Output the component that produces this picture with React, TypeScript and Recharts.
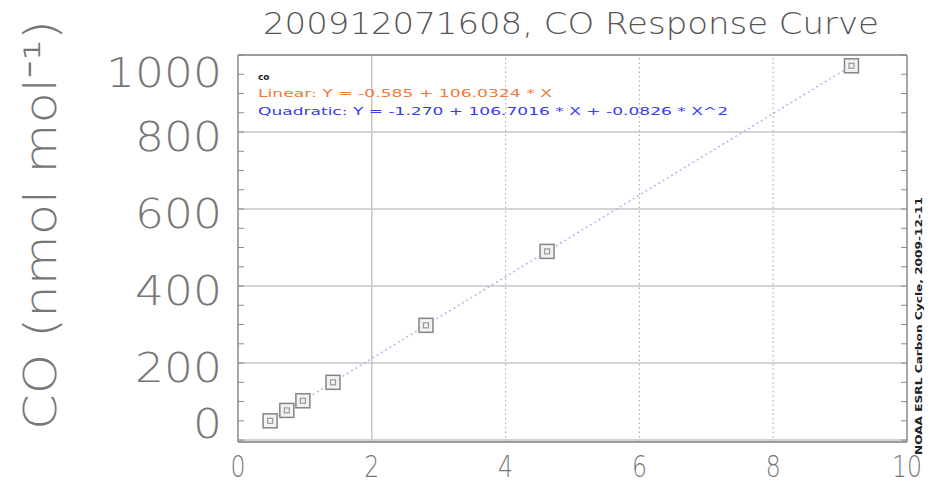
import React from 'react';
import {
  ScatterChart,
  Scatter,
  XAxis,
  YAxis,
  CartesianGrid,
  ReferenceLine,
} from 'recharts';

// instrument response (x) vs. assigned CO value (y) for each standard
const responses = [0.48, 0.73, 0.97, 1.42, 2.81, 4.62, 9.17];
const coValues = [50, 77, 102, 150, 298, 490, 972];

const xMajorTicks = [0, 2, 4, 6, 8, 10];
const xMinorTicks = [0, 0.5, 1, 1.5, 2, 2.5, 3, 3.5, 4, 4.5, 5, 5.5, 6, 6.5, 7, 7.5, 8, 8.5, 9, 9.5, 10];
const yMajorTicks = [0, 200, 400, 600, 800, 1000];
const yMinorTicks = [0, 50, 100, 150, 200, 250, 300, 350, 400, 450, 500, 550, 600, 650, 700, 750, 800, 850, 900, 950, 1000];
const solidGridX = [2];
const dottedGridX = [4, 6, 8];

const title = '200912071608, CO Response Curve';
const yTitle = 'CO (nmol mol\u207B\u00B9)';
const fitLabel = 'co';
const linearFit = 'Linear:  Y =  -0.585  +  106.0324 * X';
const quadraticFit = 'Quadratic:  Y =  -1.270  +  106.7016 * X   +  -0.0826 * X^2';
const footer = 'NOAA ESRL Carbon Cycle, 2009-12-11';

const data = responses.map((x, i) => ({ x, y: coValues[i] }));

const W = 930;
const H = 484;
const FRAME = '#8a8a8a';
const TEXT = '#777';
const FONT = '"DejaVu Sans", sans-serif';

const Blank = () => <g />;

const YTick = (props: any) => {
  const { y, payload } = props;
  const v = payload.value;
  const shift = v === 1000 ? 17 : v === 0 ? -17 : 4;
  const s = String(v);
  return (
    <text
      x={222}
      y={y + shift}
      dy="0.36em"
      textAnchor="end"
      fontFamily={FONT}
      fontWeight={200}
      fontSize={41}
      fill={TEXT}
      textLength={s.length * 29}
      lengthAdjust="spacingAndGlyphs"
    >
      {s}
    </text>
  );
};

const XTick = (props: any) => {
  const { x, payload } = props;
  const s = String(payload.value);
  return (
    <text
      x={x}
      y={466}
      dy="0.36em"
      textAnchor="middle"
      fontFamily={FONT}
      fontWeight={200}
      fontSize={30}
      fill={TEXT}
      textLength={s.length * 15}
      lengthAdjust="spacingAndGlyphs"
    >
      {s}
    </text>
  );
};

const BoxMarker = (props: any) => {
  const { cx, cy } = props;
  return (
    <g>
      <rect x={cx - 7} y={cy - 7} width={14} height={14} fill="#f2f2f2" stroke="#858585" strokeWidth={1.5} />
      <rect x={cx - 2.5} y={cy - 2.5} width={5} height={5} fill="none" stroke="#9a9a9a" strokeWidth={1.2} />
    </g>
  );
};

export default function App() {
  return (
    <div style={{ position: 'absolute', left: 0, top: 0, width: W, height: H, background: '#fff' }}>
      <ScatterChart width={W} height={H} margin={{ top: 55, right: 23, bottom: 0, left: 0 }}>
        <XAxis
          xAxisId="x"
          type="number"
          dataKey="x"
          domain={[0, 10]}
          ticks={xMajorTicks}
          height={42}
          tickLine={false}
          axisLine={{ stroke: FRAME, strokeWidth: 1.5 }}
          tick={<XTick />}
          interval={0}
        />
        {/* minor ticks pointing into the plot on all four sides */}
        <XAxis
          xAxisId="xb"
          type="number"
          domain={[0, 10]}
          allowDataOverflow
          ticks={xMinorTicks}
          height={1}
          mirror
          tickSize={6}
          axisLine={false}
          tickLine={{ stroke: FRAME }}
          tick={<Blank />}
          interval={0}
        />
        <XAxis
          xAxisId="xt"
          orientation="top"
          type="number"
          domain={[0, 10]}
          allowDataOverflow
          ticks={xMinorTicks}
          height={1}
          mirror
          tickSize={6}
          axisLine={{ stroke: FRAME, strokeWidth: 1.5 }}
          tickLine={{ stroke: FRAME }}
          tick={<Blank />}
          interval={0}
        />
        <YAxis
          yAxisId="y"
          type="number"
          dataKey="y"
          domain={[-5, 1000]}
          ticks={yMajorTicks}
          width={238}
          tickLine={false}
          axisLine={{ stroke: FRAME, strokeWidth: 1.5 }}
          tick={<YTick />}
          interval={0}
        />
        <YAxis
          yAxisId="yl"
          type="number"
          domain={[-5, 1000]}
          allowDataOverflow
          ticks={yMinorTicks}
          width={1}
          mirror
          tickSize={6}
          axisLine={false}
          tickLine={{ stroke: FRAME }}
          tick={<Blank />}
          interval={0}
        />
        <YAxis
          yAxisId="yr"
          orientation="right"
          type="number"
          domain={[-5, 1000]}
          allowDataOverflow
          ticks={yMinorTicks}
          width={1}
          mirror
          tickSize={6}
          axisLine={{ stroke: FRAME, strokeWidth: 1.5 }}
          tickLine={{ stroke: FRAME }}
          tick={<Blank />}
          interval={0}
        />
        <CartesianGrid
          xAxisId="x"
          yAxisId="y"
          vertical={false}
          stroke="#c6c6c6"
          strokeWidth={1.5}
        />
        {solidGridX.map((v) => (
          <ReferenceLine key={`s${v}`} xAxisId="x" yAxisId="y" x={v} stroke="#c6c6c6" strokeWidth={1.5} />
        ))}
        {dottedGridX.map((v) => (
          <ReferenceLine
            key={`d${v}`}
            xAxisId="x"
            yAxisId="y"
            x={v}
            stroke="#b0b0b0"
            strokeWidth={1.2}
            strokeDasharray="1.5 3"
          />
        ))}
        <Scatter
          xAxisId="x"
          yAxisId="y"
          data={data}
          shape={<BoxMarker />}
          line={{ stroke: '#b4b4ee', strokeWidth: 1.5, strokeDasharray: '2 3' }}
          isAnimationActive={false}
        />
      </ScatterChart>
      <svg
        width={W}
        height={H}
        style={{ position: 'absolute', left: 0, top: 0, pointerEvents: 'none' }}
      >
        <text
          x={571}
          y={34}
          textAnchor="middle"
          fontFamily={FONT}
          fontWeight={200}
          fontSize={30}
          fill="#555"
          textLength={616}
          lengthAdjust="spacingAndGlyphs"
        >
          {title}
        </text>
        <text
          transform="translate(56 430) rotate(-90)"
          fontFamily={FONT}
          fontWeight={200}
          fontSize={44}
          fill={TEXT}
          textLength={410}
          lengthAdjust="spacingAndGlyphs"
        >
          {yTitle}
        </text>
        <text x={258} y={80} fontFamily={FONT} fontSize={9} fontWeight="bold" fill="#222">
          {fitLabel}
        </text>
        <text
          x={258}
          y={97}
          fontFamily={FONT}
          fontSize={11}
          fill="#f07a3a"
          textLength={294}
          lengthAdjust="spacingAndGlyphs"
        >
          {linearFit}
        </text>
        <text
          x={258}
          y={115}
          fontFamily={FONT}
          fontSize={11}
          fill="#3b3bf0"
          textLength={470}
          lengthAdjust="spacingAndGlyphs"
        >
          {quadraticFit}
        </text>
        <text
          transform="translate(922 455) rotate(-90)"
          fontFamily={FONT}
          fontSize={9}
          fontWeight="bold"
          fill="#222"
          textLength={258}
          lengthAdjust="spacingAndGlyphs"
        >
          {footer}
        </text>
      </svg>
    </div>
  );
}
